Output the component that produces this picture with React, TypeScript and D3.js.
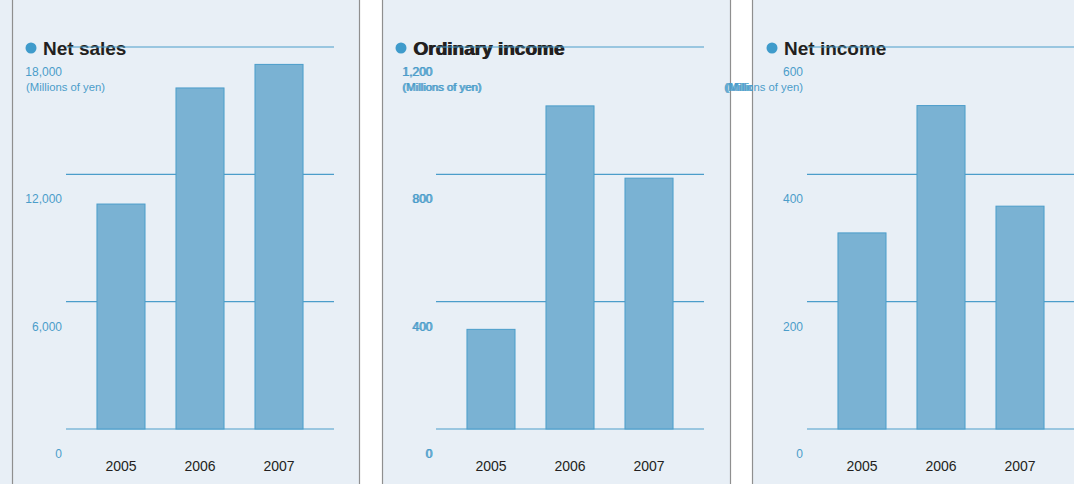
import React from "react";
import * as d3 from "d3";

const years = ["2005", "2006", "2007"];
const netSales = [10600, 16070, 17180];
const ordinaryIncome = [313, 1015, 788];
const netIncome = [308, 508, 350];
const netSalesTicks = [0, 6000, 12000, 18000];
const ordinaryTicks = [0, 400, 800, 1200];
const netIncomeTicks = [0, 200, 400, 600];
const titles = ["Net sales", "Ordinary income", "Net income"];
const unitLabel = "(Millions of yen)";

const W = 1074;
const H = 484;
const BG = "#e8eff6";
const BLUE = "#4b9dca";
const BAR = "#7ab2d3";
const DARK = "#231f20";
const FONT = "'Liberation Sans', Arial, Helvetica, sans-serif";

const panels = [
  { origin: 12, title: titles[0], values: netSales, ticks: netSalesTicks, doubled: false, unitX: 26, unitAnchor: "start" },
  { origin: 382, title: titles[1], values: ordinaryIncome, ticks: ordinaryTicks, doubled: true, unitX: 402, unitAnchor: "start" },
  { origin: 753, title: titles[2], values: netIncome, ticks: netIncomeTicks, doubled: false, unitX: 803, unitAnchor: "end" },
];

const TOP = 47;
const BOTTOM = 429;

function Txt(props: any) {
  const { doubled, children, ...rest } = props;
  if (!doubled) return <text {...rest}>{children}</text>;
  return (
    <g>
      <text {...rest}>{children}</text>
      <text {...rest} x={rest.x + 1}>{children}</text>
    </g>
  );
}

function Panel({ p }: { p: any }) {
  const x0 = p.origin + 54;
  const x1 = p.origin + 322;
  const max = d3.max(p.ticks as number[]) as number;
  const y = d3.scaleLinear().domain([0, max]).range([BOTTOM, TOP]);
  const x = d3.scaleBand<string>().domain(years).range([x0, x1]).paddingInner(0.392).paddingOuter(0.392);
  const fmt = d3.format(",");
  const labelX = p.origin + 50;
  const gridLines = (p.ticks as number[]).map((t) => (
    <line key={"g" + t} x1={x0} x2={x1} y1={y(t)} y2={y(t)} stroke={BLUE} strokeWidth={1.2} />
  ));
  return (
    <g fontFamily={FONT}>
      <circle cx={p.origin + 19} cy={48} r={5.5} fill="#3f9bcb" />
      <Txt doubled={p.doubled} x={p.origin + 31} y={55} fontSize={19} fontWeight="bold" fill={DARK}>
        {p.title}
      </Txt>
      {gridLines}
      {years.map((yr, i) => (
        <rect
          key={yr}
          x={x(yr)}
          y={y(p.values[i])}
          width={x.bandwidth()}
          height={BOTTOM - y(p.values[i])}
          fill={BAR}
          stroke={BLUE}
          strokeWidth={1}
        />
      ))}
      {(p.ticks as number[]).map((t) => (
        <Txt doubled={p.doubled} key={"t" + t} x={labelX} y={y(t) + 29} textAnchor="end" fontSize={12} fill={BLUE}>
          {fmt(t)}
        </Txt>
      ))}
      <Txt doubled={p.doubled} x={p.unitX} y={91} textAnchor={p.unitAnchor} fontSize={11.3} fill={BLUE}>
        {unitLabel}
      </Txt>
      {years.map((yr) => (
        <text key={"x" + yr} x={(x(yr) as number) + x.bandwidth() / 2} y={471} textAnchor="middle" fontSize={14} fill={DARK}>
          {yr}
        </text>
      ))}
    </g>
  );
}

export default function App() {
  return (
    <svg width={W} height={H} style={{ position: "absolute", left: 0, top: 0 }}>
      <defs>
        <clipPath id="gapClip">
          <rect x={720} y={0} width={33} height={H} />
        </clipPath>
      </defs>
      <rect x={0} y={0} width={W} height={H} fill={BG} />
      <rect x={360} y={0} width={22} height={H} fill="#ffffff" />
      <rect x={731} y={0} width={21.5} height={H} fill="#ffffff" />
      {[12.5, 359.5, 382.5, 730.5, 752.5].map((bx) => (
        <line key={bx} x1={bx} x2={bx} y1={0} y2={H} stroke="#8f8f8f" strokeWidth={1.2} />
      ))}
      {panels.map((p) => (
        <Panel key={p.title} p={p} />
      ))}
      <g clipPath="url(#gapClip)" fontFamily={FONT}>
        <text x={725} y={91} fontSize={11.3} fill={BLUE}>{unitLabel}</text>
        <text x={726} y={91} fontSize={11.3} fill={BLUE}>{unitLabel}</text>
      </g>
    </svg>
  );
}
